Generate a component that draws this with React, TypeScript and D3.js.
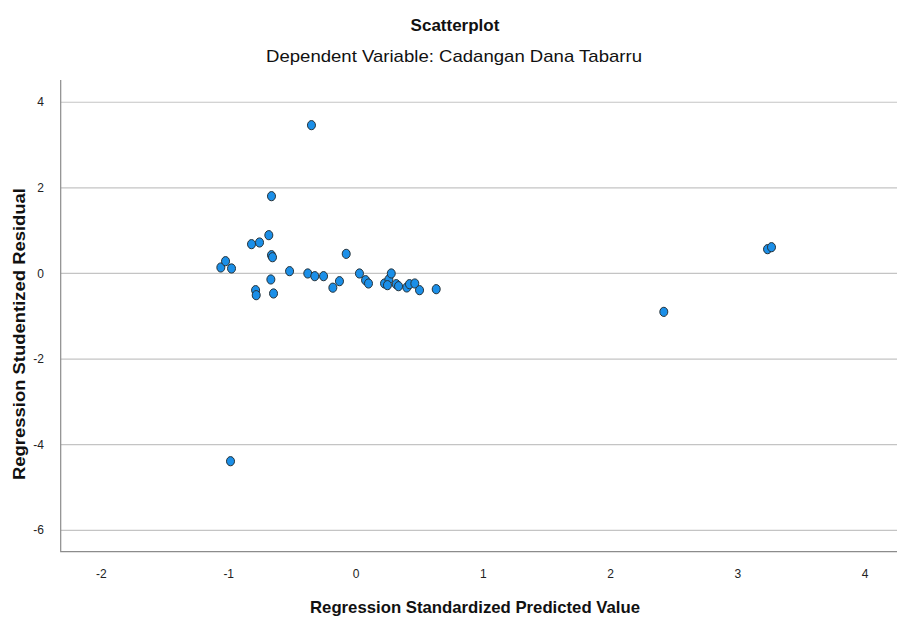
import { useEffect, useRef } from 'react'
import * as d3 from 'd3'

const predicted = [
  -1.062, -1.025, -0.978, -0.821, -0.758, -0.685, -0.664, -0.656, -0.669, -0.789,
  -0.784, -0.648, -0.664, -0.35, -0.986, -0.522, -0.379, -0.324, -0.255, -0.182,
  -0.13, -0.077, 0.027, 0.075, 0.098, 0.224, 0.258, 0.277, 0.247, 0.316,
  0.334, 0.399, 0.42, 0.462, 0.499, 0.63, 2.418, 3.233, 3.264,
]
const residual = [
  0.14, 0.287, 0.117, 0.685, 0.724, 0.895, 0.428, 0.38, -0.14, -0.39,
  -0.507, -0.467, 1.806, 3.465, -4.386, 0.054, 0.0, -0.063, -0.063, -0.332,
  -0.18, 0.458, 0.0, -0.157, -0.234, -0.234, -0.14, 0.0, -0.273, -0.25,
  -0.297, -0.327, -0.25, -0.234, -0.39, -0.367, -0.897, 0.568, 0.614,
]
const xTicks = [-2, -1, 0, 1, 2, 3, 4]
const yTicks = [4, 2, 0, -2, -4, -6]

const W = 897
const H = 619
const FONT = 'Liberation Sans, Arial, sans-serif'

export default function App() {
  const ref = useRef<SVGSVGElement>(null)

  useEffect(() => {
    if (!ref.current) return
    const svg = d3.select(ref.current)
    svg.selectAll('*').remove()

    const left = 60.7, right = 897, top = 80, bottom = 551.7
    const x = d3.scaleLinear().domain([-2.32, 4.25]).range([left, right])
    const y = d3.scaleLinear().domain([-6.5, 4.52]).range([bottom, top])

    svg.append('rect').attr('width', W).attr('height', H).attr('fill', '#fff')

    // horizontal grid
    svg.append('g')
      .selectAll('line')
      .data(yTicks)
      .join('line')
      .attr('x1', left).attr('x2', right)
      .attr('y1', d => y(d)).attr('y2', d => y(d))
      .attr('stroke', '#c4c4c4').attr('stroke-width', 1.2)

    // axis frame (left + bottom)
    svg.append('path')
      .attr('d', `M${left},${top}V${bottom}H${right}`)
      .attr('fill', 'none').attr('stroke', '#8c8c8c').attr('stroke-width', 1.2)

    svg.append('g')
      .selectAll('text')
      .data(yTicks)
      .join('text')
      .attr('x', 44).attr('y', d => y(d))
      .attr('dy', '0.35em')
      .attr('text-anchor', 'end')
      .attr('font-family', FONT).attr('font-size', 12).attr('fill', '#222')
      .text(d => d)

    svg.append('g')
      .selectAll('text')
      .data(xTicks)
      .join('text')
      .attr('x', d => x(d)).attr('y', 578)
      .attr('text-anchor', 'middle')
      .attr('font-family', FONT).attr('font-size', 12).attr('fill', '#222')
      .text(d => d)

    const pts = predicted.map((p, i) => ({ p, r: residual[i] }))
    svg.append('g')
      .selectAll('ellipse')
      .data(pts)
      .join('ellipse')
      .attr('cx', d => x(d.p)).attr('cy', d => y(d.r))
      .attr('rx', 4).attr('ry', 4.6)
      .attr('fill', '#1b8fe8').attr('stroke', '#263238').attr('stroke-width', 1)

    svg.append('text')
      .attr('x', 455).attr('y', 31)
      .attr('text-anchor', 'middle')
      .attr('font-family', FONT).attr('font-size', 17).attr('font-weight', 700).attr('fill', '#111')
      .text('Scatterplot')

    svg.append('text')
      .attr('x', 454).attr('y', 62)
      .attr('text-anchor', 'middle')
      .attr('font-family', FONT).attr('font-size', 17).attr('fill', '#111')
      .attr('textLength', 376).attr('lengthAdjust', 'spacingAndGlyphs')
      .text('Dependent Variable: Cadangan Dana Tabarru')

    svg.append('text')
      .attr('x', 475).attr('y', 613)
      .attr('text-anchor', 'middle')
      .attr('font-family', FONT).attr('font-size', 17).attr('font-weight', 700).attr('fill', '#111')
      .attr('textLength', 330).attr('lengthAdjust', 'spacingAndGlyphs')
      .text('Regression Standardized Predicted Value')

    svg.append('text')
      .attr('transform', 'translate(25,334) rotate(-90)')
      .attr('text-anchor', 'middle')
      .attr('font-family', FONT).attr('font-size', 17).attr('font-weight', 700).attr('fill', '#111')
      .attr('textLength', 292).attr('lengthAdjust', 'spacingAndGlyphs')
      .text('Regression Studentized Residual')
  }, [])

  return (
    <svg
      ref={ref}
      width={W}
      height={H}
      style={{ position: 'absolute', left: 0, top: 0, display: 'block' }}
    />
  )
}
